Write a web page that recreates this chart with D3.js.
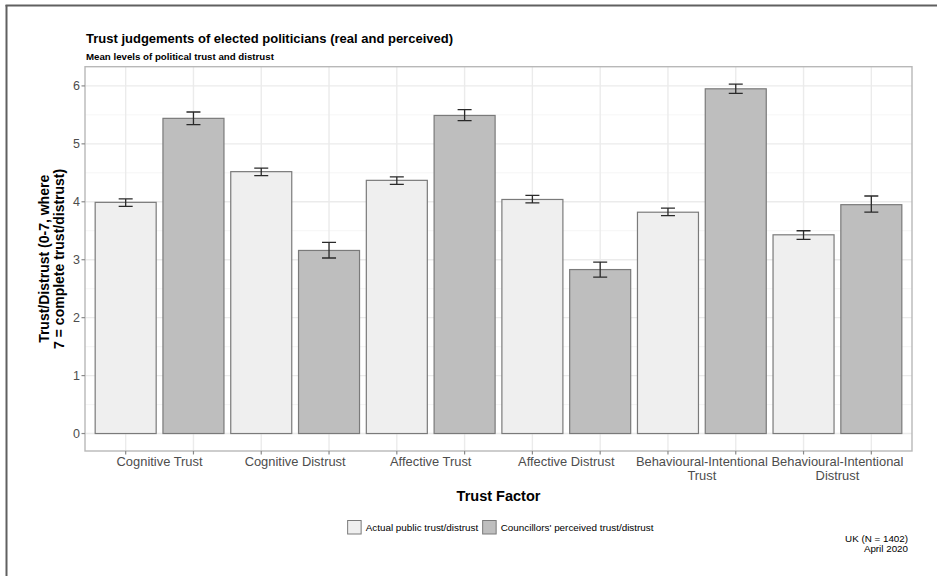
<!DOCTYPE html>
<html><head><meta charset="utf-8">
<script src="https://cdn.jsdelivr.net/npm/d3@7"></script>
<style>
html,body{margin:0;padding:0;background:#fff;}
svg{display:block;font-family:"Liberation Sans",Arial,Helvetica,sans-serif;}
</style></head>
<body>
<script>
// ---- data ----
const factors = ["Cognitive Trust","Cognitive Distrust","Affective Trust","Affective Distrust","Behavioural-Intentional Trust","Behavioural-Intentional Distrust"];
const factorLabels = [["Cognitive Trust"],["Cognitive Distrust"],["Affective Trust"],["Affective Distrust"],["Behavioural-Intentional","Trust"],["Behavioural-Intentional","Distrust"]];
const groups = ["Actual public trust/distrust","Councillors' perceived trust/distrust"];
const actualMean  = [3.99, 4.52, 4.37, 4.04, 3.82, 3.43];
const actualLow   = [3.92, 4.45, 4.30, 3.98, 3.76, 3.35];
const actualHigh  = [4.05, 4.58, 4.43, 4.11, 3.89, 3.50];
const councilMean = [5.44, 3.16, 5.49, 2.83, 5.95, 3.95];
const councilLow  = [5.33, 3.03, 5.40, 2.70, 5.87, 3.82];
const councilHigh = [5.55, 3.30, 5.59, 2.96, 6.03, 4.10];
const yTicks = [0,1,2,3,4,5,6];
const yMinor = [0.5,1.5,2.5,3.5,4.5,5.5];

// build rows: 12 bars, alternating actual / councillors
const rows = [];
factors.forEach((f,i)=>{
  rows.push({key:f+"|a", factor:i, group:0, mean:actualMean[i], lo:actualLow[i], hi:actualHigh[i]});
  rows.push({key:f+"|c", factor:i, group:1, mean:councilMean[i], lo:councilLow[i], hi:councilHigh[i]});
});

const W=937,H=576;
const P={l:85,r:912,t:66.7,b:451};
const fills=["#efefef","#bebebe"];

const svg=d3.select("body").append("svg").attr("width",W).attr("height",H);

// outer frame (left & top edge)
svg.append("line").attr("x1",6.5).attr("x2",6.5).attr("y1",5).attr("y2",H).attr("stroke","#606060").attr("stroke-width",2);
svg.append("line").attr("x1",5.5).attr("x2",W).attr("y1",5.5).attr("y2",5.5).attr("stroke","#606060").attr("stroke-width",2);

const x=d3.scalePoint().domain(rows.map(d=>d.key)).range([P.l,P.r]).padding(0.6);
const bw=x.step()*0.9;
const yMax=d3.max(rows,d=>d.hi);
const y=d3.scaleLinear().domain([-0.05*yMax, yMax*1.05]).range([P.b,P.t]);

// gridlines
const g=svg.append("g");
g.selectAll(".minor").data(yMinor).join("line")
  .attr("x1",P.l).attr("x2",P.r).attr("y1",d=>y(d)).attr("y2",d=>y(d))
  .attr("stroke","#f2f2f2").attr("stroke-width",0.8);
g.selectAll(".major").data(yTicks).join("line")
  .attr("x1",P.l).attr("x2",P.r).attr("y1",d=>y(d)).attr("y2",d=>y(d))
  .attr("stroke","#ebebeb").attr("stroke-width",1.4);
g.selectAll(".vmajor").data(rows).join("line")
  .attr("x1",d=>x(d.key)).attr("x2",d=>x(d.key)).attr("y1",P.t).attr("y2",P.b)
  .attr("stroke","#ebebeb").attr("stroke-width",1.4);

// bars
svg.append("g").selectAll("rect").data(rows).join("rect")
  .attr("x",d=>x(d.key)-bw/2).attr("width",bw)
  .attr("y",d=>y(d.mean)).attr("height",d=>y(0)-y(d.mean))
  .attr("fill",d=>fills[d.group]).attr("stroke","#7a7a7a").attr("stroke-width",1.2);

// error bars
const eb=svg.append("g").attr("stroke","#2a2a2a").attr("stroke-width",1.3).attr("fill","none");
const ew=7;
rows.forEach(d=>{
  const cx=x(d.key);
  eb.append("path").attr("d",`M${cx-ew},${y(d.hi)}H${cx+ew}M${cx},${y(d.hi)}V${y(d.lo)}M${cx-ew},${y(d.lo)}H${cx+ew}`);
});

// panel border
svg.append("rect").attr("x",P.l).attr("y",P.t).attr("width",P.r-P.l).attr("height",P.b-P.t)
  .attr("fill","none").attr("stroke","#b8b8b8").attr("stroke-width",1.4);

// y axis
const ya=svg.append("g");
ya.selectAll("line").data(yTicks).join("line")
  .attr("x1",P.l-3.5).attr("x2",P.l).attr("y1",d=>y(d)).attr("y2",d=>y(d)).attr("stroke","#8a8a8a").attr("stroke-width",1.2);
ya.selectAll("text").data(yTicks).join("text")
  .attr("x",P.l-5).attr("y",d=>y(d)).attr("dy","0.36em").attr("text-anchor","end")
  .attr("font-size",12.5).attr("fill","#4d4d4d").text(d=>d);

// x axis
const xa=svg.append("g");
xa.selectAll("line").data(rows).join("line")
  .attr("x1",d=>x(d.key)).attr("x2",d=>x(d.key)).attr("y1",P.b).attr("y2",P.b+3.5).attr("stroke","#8a8a8a").attr("stroke-width",1.2);
factorLabels.forEach((lines,i)=>{
  const cx=(x(rows[2*i].key)+x(rows[2*i+1].key))/2;
  lines.forEach((t,j)=>{
    xa.append("text").attr("x",cx).attr("y",466+j*13.5).attr("text-anchor","middle")
      .attr("font-size",12.9).attr("fill","#4d4d4d").text(t);
  });
});

// titles
svg.append("text").attr("x",86).attr("y",43).attr("font-size",13).attr("font-weight","bold").attr("fill","#000")
  .text("Trust judgements of elected politicians (real and perceived)");
svg.append("text").attr("x",86).attr("y",59.5).attr("font-size",9.7).attr("font-weight","bold").attr("fill","#000")
  .text("Mean levels of political trust and distrust");

// axis titles
svg.append("text").attr("x",(P.l+P.r)/2).attr("y",500.5).attr("text-anchor","middle")
  .attr("font-size",14.5).attr("font-weight","bold").text("Trust Factor");
const yt=svg.append("text").attr("transform",`translate(0,${(P.t+P.b)/2}) rotate(-90)`)
  .attr("text-anchor","middle").attr("font-size",14).attr("font-weight","bold");
yt.append("tspan").attr("x",0).attr("y",48.5).text("Trust/Distrust (0-7, where");
yt.append("tspan").attr("x",0).attr("y",63.5).text("7 = complete trust/distrust)");

// legend
const lg=svg.append("g");
let cx=0;
groups.forEach((name,i)=>{
  lg.append("rect").attr("x",cx+0.5).attr("y",520.5).attr("width",13.5).attr("height",13.5)
    .attr("fill",fills[i]).attr("stroke","#7a7a7a").attr("stroke-width",1);
  const t=lg.append("text").attr("x",cx+18.5).attr("y",531).attr("font-size",9.9).attr("fill","#000").text(name);
  cx+=18.5+t.node().getComputedTextLength()+4;
});
const lw=cx-4;
lg.attr("transform",`translate(${500.3-lw/2},0)`);

// caption
svg.append("text").attr("x",908).attr("y",541.5).attr("text-anchor","end").attr("font-size",9.8).text("UK (N = 1402)");
svg.append("text").attr("x",908).attr("y",551.8).attr("text-anchor","end").attr("font-size",9.8).text("April 2020");
</script>
</body></html>
